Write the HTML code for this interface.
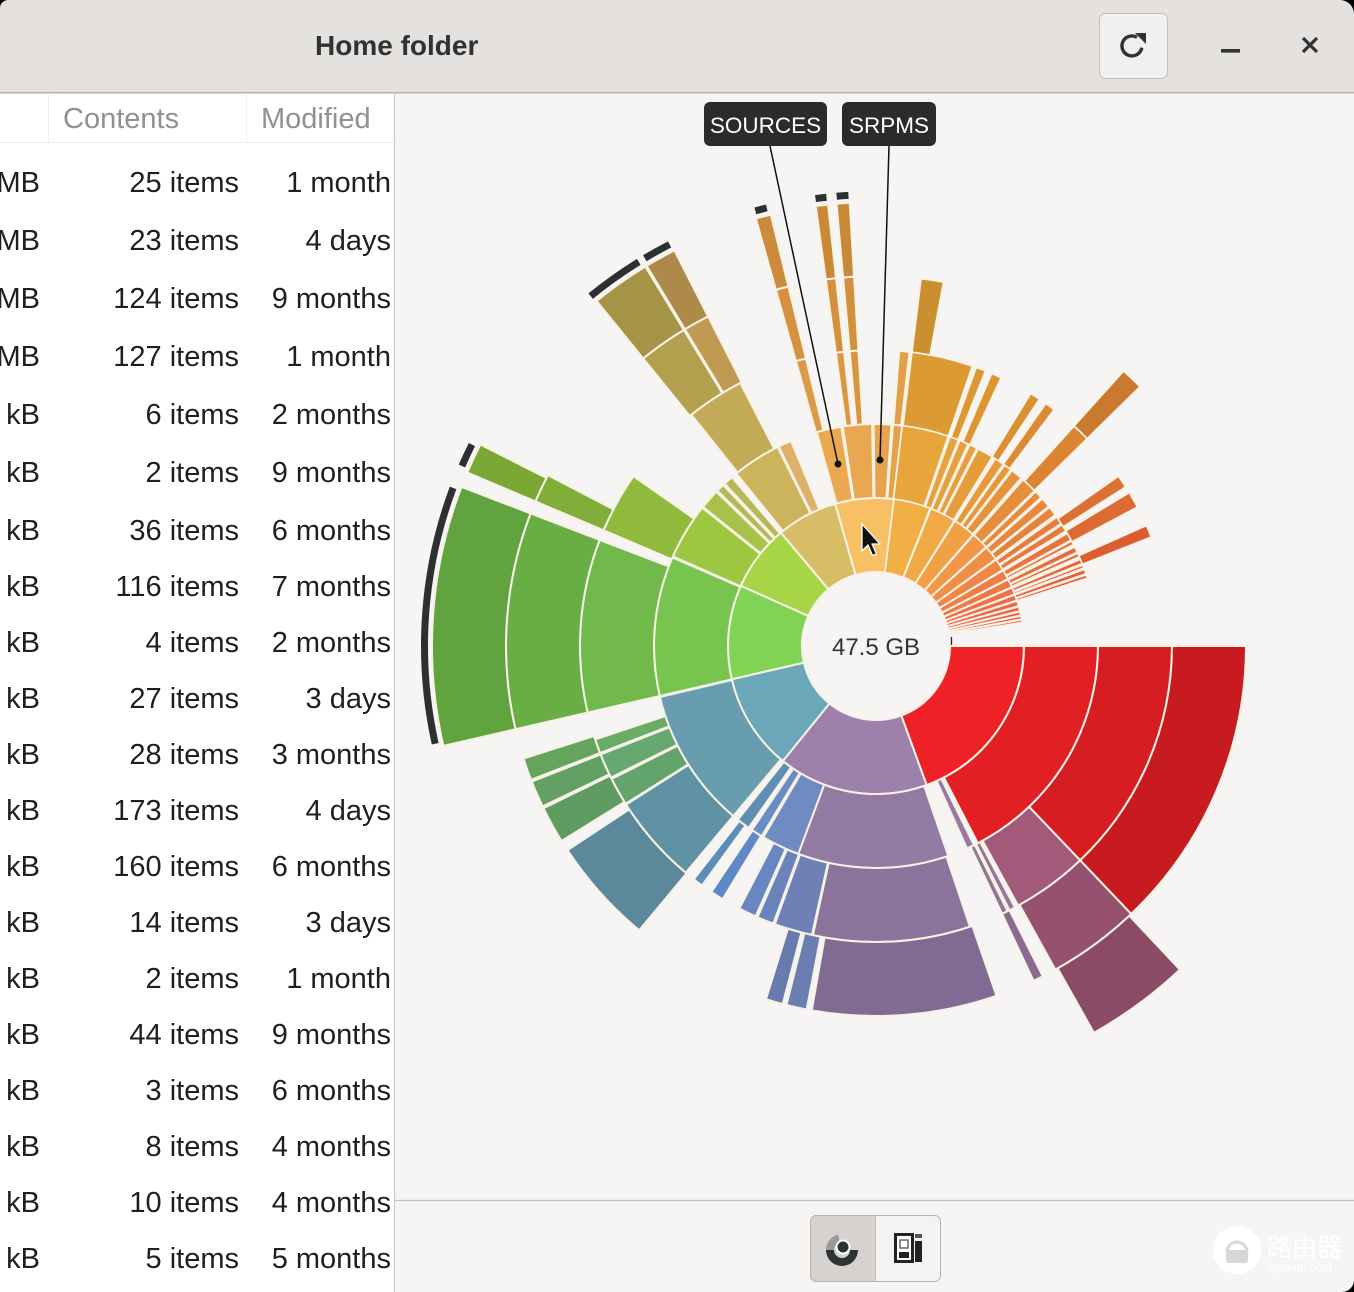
<!DOCTYPE html>
<html><head><meta charset="utf-8">
<style>
html,body{margin:0;padding:0;background:#f6f5f4;}
body{width:1354px;height:1292px;overflow:hidden;}
svg{display:block;font-family:"Liberation Sans","Noto Sans CJK SC",sans-serif;}
</style></head><body>
<svg id="s" width="1354" height="1292" viewBox="0 0 1354 1292" xmlns="http://www.w3.org/2000/svg">
<rect width="1354" height="1292" fill="#f6f5f4"/>

<!-- Header bar -->
<rect width="1354" height="92" fill="#e4e1de"/>
<rect y="92" width="1354" height="1.5" fill="#b5b2af"/>
<text x="315" y="55" font-size="28" font-weight="bold" fill="#2e3436">Home folder</text>
<rect x="1099.5" y="13.5" width="68" height="65" rx="6" fill="#f1f0ef" stroke="#c3bfbb"/>
<path d="M1137 37.3 A10 10 0 1 0 1141.8 47.7" fill="none" stroke="#2e3436" stroke-width="3.4"/>
<polygon points="1135,33 1146,33 1146,44" fill="#2e3436"/>
<rect x="1221" y="49" width="19" height="3.6" fill="#2e3436"/>
<path d="M1303 38 L1317 52 M1317 38 L1303 52" stroke="#2e3436" stroke-width="3.2"/>
<path d="M0 0 H8 A8 8 0 0 0 0 8 Z" fill="#000"/>
<path d="M1340 0 H1354 V14 A14 14 0 0 0 1340 0 Z" fill="#000"/>
<path d="M1354 1280 V1292 H1342 A12 12 0 0 0 1354 1280 Z" fill="#000"/>

<!-- Left list panel -->
<rect x="0" y="93.5" width="394" height="1199" fill="#ffffff"/>
<line x1="394.5" y1="93" x2="394.5" y2="1292" stroke="#cdcac6" stroke-width="1.2"/>
<line x1="0" y1="142.5" x2="394" y2="142.5" stroke="#efefef"/>
<line x1="48.5" y1="93" x2="48.5" y2="142" stroke="#efefef"/>
<line x1="246.5" y1="93" x2="246.5" y2="142" stroke="#efefef"/>
<text x="63" y="128" font-size="29" fill="#8f9192">Contents</text>
<text x="261" y="128" font-size="29" fill="#8f9192">Modified</text>

<g font-size="29" fill="#1f1f1f">
<g text-anchor="end">
<text x="40" y="192">MB</text><text x="239" y="192">25 items</text><text x="391" y="192">1 month</text>
<text x="40" y="250">MB</text><text x="239" y="250">23 items</text><text x="391" y="250">4 days</text>
<text x="40" y="308">MB</text><text x="239" y="308">124 items</text><text x="391" y="308">9 months</text>
<text x="40" y="366">MB</text><text x="239" y="366">127 items</text><text x="391" y="366">1 month</text>
<text x="40" y="424">kB</text><text x="239" y="424">6 items</text><text x="391" y="424">2 months</text>
<text x="40" y="482">kB</text><text x="239" y="482">2 items</text><text x="391" y="482">9 months</text>
<text x="40" y="540">kB</text><text x="239" y="540">36 items</text><text x="391" y="540">6 months</text>
<text x="40" y="596">kB</text><text x="239" y="596">116 items</text><text x="391" y="596">7 months</text>
<text x="40" y="652">kB</text><text x="239" y="652">4 items</text><text x="391" y="652">2 months</text>
<text x="40" y="708">kB</text><text x="239" y="708">27 items</text><text x="391" y="708">3 days</text>
<text x="40" y="764">kB</text><text x="239" y="764">28 items</text><text x="391" y="764">3 months</text>
<text x="40" y="820">kB</text><text x="239" y="820">173 items</text><text x="391" y="820">4 days</text>
<text x="40" y="876">kB</text><text x="239" y="876">160 items</text><text x="391" y="876">6 months</text>
<text x="40" y="932">kB</text><text x="239" y="932">14 items</text><text x="391" y="932">3 days</text>
<text x="40" y="988">kB</text><text x="239" y="988">2 items</text><text x="391" y="988">1 month</text>
<text x="40" y="1044">kB</text><text x="239" y="1044">44 items</text><text x="391" y="1044">9 months</text>
<text x="40" y="1100">kB</text><text x="239" y="1100">3 items</text><text x="391" y="1100">6 months</text>
<text x="40" y="1156">kB</text><text x="239" y="1156">8 items</text><text x="391" y="1156">4 months</text>
<text x="40" y="1212">kB</text><text x="239" y="1212">10 items</text><text x="391" y="1212">4 months</text>
<text x="40" y="1268">kB</text><text x="239" y="1268">5 items</text><text x="391" y="1268">5 months</text>
</g>
</g>

<!-- Bottom toolbar -->
<line x1="395" y1="1200.5" x2="1354" y2="1200.5" stroke="#c2bfbc" stroke-width="1.2"/>
<rect x="810.5" y="1215.5" width="130" height="66" rx="6" fill="#f4f3f2" stroke="#b8b4b0"/>
<path d="M816.5 1215.5 H875.5 V1281.5 H816.5 A6 6 0 0 1 810.5 1275.5 V1221.5 A6 6 0 0 1 816.5 1215.5 Z" fill="#d5d2cf" stroke="#b8b4b0"/>
<line x1="875.5" y1="1216" x2="875.5" y2="1281" stroke="#c4c0bc"/>
<!-- chart icon -->
<path d="M858 1250 A16 16 0 0 1 826 1250 L834 1250 A8 8 0 0 0 850 1250 Z" fill="#2e3436"/>
<path d="M826 1250 A16 16 0 0 1 838 1234.5 L840 1242.2 A8 8 0 0 0 834 1250 Z" fill="#9a9a9a"/>
<circle cx="843" cy="1247" r="6.5" fill="#2e3436" stroke="#ffffff" stroke-width="2"/>
<!-- info icon -->
<rect x="895.5" y="1234.5" width="17" height="27" fill="#ffffff" stroke="#222" stroke-width="3"/>
<rect x="899" y="1252" width="10" height="6" fill="#222"/>
<rect x="900" y="1240" width="8" height="8" fill="none" stroke="#444" stroke-width="1.2"/>
<rect x="915" y="1241" width="7" height="21" fill="#222"/>
<rect x="915" y="1234" width="7" height="4" fill="#555"/>

<!-- watermark -->
<circle cx="1237" cy="1250" r="24" fill="#ffffff" opacity="0.92"/>
<path d="M1227 1252 a10 10 0 0 1 20 0" fill="none" stroke="#d8d7d6" stroke-width="3"/>
<rect x="1226" y="1250" width="22" height="13" rx="3" fill="#d8d7d6"/>
<text x="1267" y="1256" font-size="25" fill="#ffffff" font-family="'Noto Sans CJK SC',sans-serif">路由器</text>
<text x="1268" y="1271" font-size="12" fill="#ffffff">luyouqi.com</text>

<!-- chart -->
<g id="chart"></g>

<!-- center label -->
<text x="876" y="655" font-size="24" fill="#2e3436" text-anchor="middle">47.5 GB</text>
<line x1="951.5" y1="637" x2="951.5" y2="645" stroke="#222" stroke-width="1.3"/>

<!-- tags -->
<line x1="770" y1="146" x2="838" y2="464" stroke="#111" stroke-width="1.5"/>
<line x1="889" y1="146" x2="880" y2="460" stroke="#111" stroke-width="1.5"/>
<circle cx="838" cy="464" r="3.5" fill="#111"/>
<circle cx="880" cy="460" r="3.5" fill="#111"/>
<rect x="704" y="102" width="123" height="44" rx="6" fill="#2b2b2b"/>
<text x="765.5" y="133" font-size="22.5" fill="#ffffff" text-anchor="middle">SOURCES</text>
<rect x="842" y="102" width="94" height="44" rx="6" fill="#2b2b2b"/>
<text x="889" y="133" font-size="22.5" fill="#ffffff" text-anchor="middle">SRPMS</text>

<!-- cursor -->
<polygon points="862,524 862,551 868,545 872.5,555.5 876.5,554 872,544 880,544" fill="#111" stroke="#ffffff" stroke-width="1.3" stroke-linejoin="round"/>
</svg>

<script>
(function(){
var cx=876, cy=646, R=[0,74,148,222,296,370,444];
var g=document.getElementById('chart');
var NS='http://www.w3.org/2000/svg';
function pth(r0,r1,a0,a1){
  var t0=a0*Math.PI/180,t1=a1*Math.PI/180, la=(a1-a0)>180?1:0;
  function p(r,t){return (cx+r*Math.cos(t)).toFixed(2)+' '+(cy+r*Math.sin(t)).toFixed(2);}
  return 'M'+p(r1,t0)+'A'+r1+' '+r1+' 0 '+la+' 1 '+p(r1,t1)+'L'+p(r0,t1)+'A'+r0+' '+r0+' 0 '+la+' 0 '+p(r0,t0)+'Z';
}
function add(d,fill,stroke,sw){
  var e=document.createElementNS(NS,'path');
  e.setAttribute('d',d); e.setAttribute('fill',fill);
  if(stroke){e.setAttribute('stroke',stroke);e.setAttribute('stroke-width',sw||'2');e.setAttribute('stroke-linejoin','round');}
  g.appendChild(e);
}
var SEP='#f7f2e6';
function seg(L,a0,a1,c,sw){ add(pth(R[L],R[L+1],a0,a1),c,SEP,sw); }

var S=[
// red
[1,0,70,'#ee2226'],
[2,0,62.7,'#e21f23'],[2,63.8,65.8,'#9a7aa4'],
[3,0,46.4,'#d61d21'],[3,46.4,61.3,'#a35979'],[3,62,63.2,'#957899'],[3,63.6,64.8,'#937597'],
[4,0,46.4,'#c71b1f'],[4,46.4,61,'#96516f'],[4,63.2,64.8,'#8a6b8f'],
[5,46.8,60.6,'#8b4b66'],
// purple
[1,70,129,'#9e80ad'],
[2,71,110.5,'#937aa3'],
[3,71.5,102.3,'#8b739c'],
[4,71,100,'#816b93'],
// blue
[2,110.5,120.5,'#6e8cc2'],[2,121,124,'#6a8cc6'],[2,125,128.5,'#5f8eb4'],
[3,102.5,110,'#6f80b6'],[3,110.3,113.6,'#6b83bb'],[3,114,117.5,'#6886c1'],[3,121.2,123.8,'#5f88c8'],[3,126,128,'#5b8cba'],
[4,100.8,104,'#6b7db1'],[4,104.6,107.3,'#687bae'],
// teal
[1,129,167,'#6ca7b9'],
[2,130,166.7,'#679dae'],
[3,130,147.6,'#5f92a4'],
[3,147.8,153.3,'#63a46d'],[3,153.6,158.5,'#66a86f'],[3,158.8,161.6,'#6aab66'],
[4,129.8,146.5,'#5b889a'],
[4,148.2,154,'#5f9c62'],[4,154.3,158.5,'#62a063'],[4,158.8,162.3,'#64a45c'],
// green
[1,167,204,'#81d356'],
[2,167,203.5,'#77c54e'],
[3,167,201,'#70b94a'],
[4,167,201,'#69ae45'],
[5,167,201,'#61a33f'],
// yellow-green
[1,204,230,'#a6d645'],
[2,203.8,218.5,'#9dc741'],[2,218.8,224,'#a9c04a'],[2,224.4,226.5,'#b0bc51'],[2,227,229.5,'#b7b757'],
[3,203,215,'#8fba3b'],
[4,203,207.5,'#81ae38'],
[5,203,207,'#7ba834'],
// khaki
[1,230,254,'#d8bd67'],
[2,231,243.7,'#cbb45c'],[2,244,247.5,'#dfb06a'],
[3,231.4,242.7,'#c2aa56'],
[4,231,238.7,'#b3a04f'],[4,238.9,243,'#c09a52'],
[5,231,238.7,'#a69446'],[5,238.9,243,'#ad8a4a'],
// selected light orange
[1,254,277,'#f8c064'],
[2,254.5,261,'#eaa950'],[2,261.4,269,'#e9a74f'],[2,269.4,274,'#e8a44d'],[2,274.4,276.8,'#e6a24b'],
[3,254.3,256.3,'#da9a48'],[3,262.2,263.8,'#d9973f'],[3,264.9,266.6,'#d8953e'],[3,274.5,276.5,'#e09f48'],
[4,254.3,256.3,'#d4923f'],[4,262.2,263.8,'#d3913d'],[4,264.9,266.6,'#d2903c'],
[5,254.3,256.3,'#cc8b3a'],[5,262.2,263.8,'#c98a38'],[5,264.9,266.6,'#c78837']
];
for(var i=0;i<S.length;i++){ seg(S[i][0],S[i][1],S[i][2],S[i][3]); }

// orange -> red fan
function oc(a,s,l){ var t=(a-277)/74; if(t<0)t=0; if(t>1)t=1; var h=37-33*t*t; return 'hsl('+h.toFixed(1)+','+s+'%,'+l+'%)'; }
var L1=[[277,291.5],[291.8,302],[302.3,311],[311.3,318],[318.3,324],[324.3,329],[329.3,333],[333.3,336.5],[336.8,339.5],[339.8,342],[342.3,344.3],[344.6,346.3],[346.6,348],[348.3,349.5],[349.8,350.8]];
var L2=[[276.8,289],[289.5,291.8],[292.2,294.5],[295,297],[297.4,301.6],[302.5,305],[305.4,307.4],[307.8,310.8],[311.5,315.6],[316,318],[318.5,321],[321.4,323.8],[324.5,326.5],[326.9,328.8],[329.5,331.5],[331.8,332.8],[333.5,335],[335.3,336.3],[337,338.2],[338.6,339.4],[339.8,341],[341.3,342.2]];
var L3=[[277,289],[289.8,291.7],[293,295],[301.5,303.5],[305,307],[312,315.5],[325,327.5],[328.8,332],[336,338.4]];
var L4=[[277,280.5],[312,315.5]];
function fan(arr,L,s,l){ for(var i=0;i<arr.length;i++){ var m=(arr[i][0]+arr[i][1])/2; seg(L,arr[i][0],arr[i][1],oc(m,s,l),'1.6'); } }
fan(L1,1,86,61); fan(L2,2,78,57); fan(L3,3,70,53); fan(L4,4,62,49);

// dark "more" bars
var B=[[167.5,200.5],[203.5,206.5],[230.8,238.3],[239.2,242.8],[254.5,256],[262.3,263.7],[265,266.5]];
for(var j=0;j<B.length;j++){ add(pth(448,455,B[j][0],B[j][1]),'#2c3033'); }
})();
</script>
</body></html>
